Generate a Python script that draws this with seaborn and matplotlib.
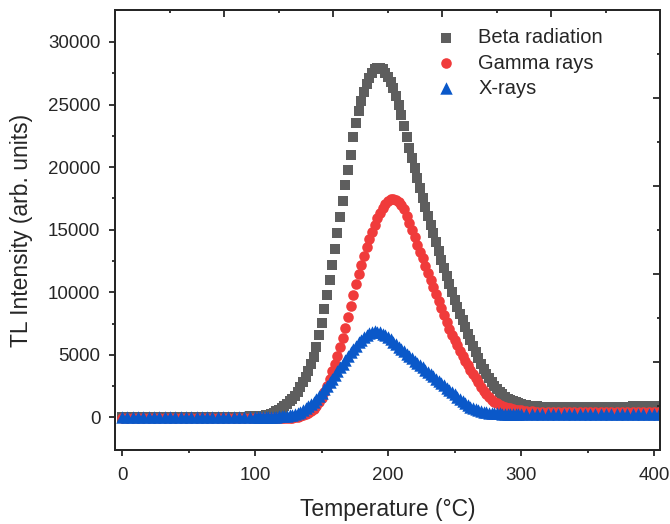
import numpy as np
import pandas as pd
import matplotlib
matplotlib.use("Agg")
import matplotlib.pyplot as plt
from matplotlib.ticker import MultipleLocator, FixedLocator
import seaborn as sns

# ---------------- data ----------------
temperature = list(range(0, 100, 4)) + list(range(100, 301, 2)) + list(range(304, 405, 4))

beta_low = [70] * 22 + [75, 75, 80]
beta_mid = [
    80, 90, 110, 140, 180, 230, 300, 380, 480, 600,            # 100-118
    740, 900, 1080, 1280, 1500, 1740, 2000, 2400, 2800, 3250,  # 120-138
    3750, 4300, 4850, 5650, 6550, 7550, 8650, 9800, 11000, 12200,  # 140-158
    13450, 14750, 16050, 17300, 18550, 19800, 21000, 22400, 23500, 24450,  # 160-178
    25250, 26000, 26650, 27150, 27550, 27850, 27950, 27950, 27800, 27550,  # 180-198
    27200, 26800, 26300, 25700, 25000, 24200, 23300, 22400, 21500, 20700,  # 200-218
    19900, 19100, 18300, 17500, 16800, 16100, 15400, 14700, 14000, 13300,  # 220-238
    12600, 11950, 11300, 10650, 10000, 9400, 8850, 8300, 7750, 7200,       # 240-258
    6700, 6200, 5700, 5200, 4750, 4300, 3900, 3500, 3150, 2850,            # 260-278
    2550, 2300, 2050, 1850, 1650, 1500, 1380, 1280, 1200, 1130,            # 280-298
    1070,                                                                  # 300
]
beta_high = [1000, 940, 900, 870, 850, 830, 820, 810, 800, 800, 800, 800, 800,
             810, 820, 830, 840, 850, 860, 870, 880, 890, 900, 910, 920, 930]

gamma_low = [-40] * 25
gamma_mid = [
    -40, -40, -40, -40, -40, -40, -40, -40, -40, -40,          # 100-118
    -40, -35, -30, -20, -5, 20, 60, 110, 180, 270,             # 120-138
    380, 510, 680, 900, 1200, 1580, 2020, 2550, 3100, 3680,    # 140-158
    4280, 4920, 5600, 6350, 7150, 8000, 8900, 9800, 10650, 11450,  # 160-178
    12200, 12900, 13600, 14250, 14850, 15400, 15900, 16350, 16750, 17050,  # 180-198
    17280, 17420, 17450, 17400, 17250, 17000, 16650, 16100, 15500, 14950,  # 200-218
    14400, 13800, 13250, 12700, 12130, 11570, 11000, 10430, 9860, 9290,    # 220-238
    8720, 8160, 7620, 7100, 6600, 6200, 5750, 5330, 4920, 4530,            # 240-258
    4160, 3810, 3480, 3140, 2800, 2470, 2150, 1870, 1630, 1430,            # 260-278
    1270, 1140, 1030, 940, 860, 790, 730, 680, 630, 590,                   # 280-298
    560,                                                                   # 300
]
gamma_high = [510, 480, 460, 450, 440, 430] + [420] * 20

xray_low = [60] * 25
xray_mid = [
    60, 60, 60, 60, 60, 60, 60, 65, 70, 80,                    # 100-118
    95, 115, 140, 175, 220, 280, 360, 460, 580, 720,           # 120-138
    880, 1060, 1260, 1480, 1720, 1980, 2250, 2530, 2820, 3110, # 140-158
    3400, 3700, 4000, 4300, 4600, 4900, 5190, 5470, 5740, 5990,  # 160-178
    6220, 6430, 6610, 6750, 6840, 6870, 6850, 6790, 6700, 6560,  # 180-198
    6400, 6230, 6050, 5860, 5660, 5460, 5270, 5080, 4900, 4720,  # 200-218
    4540, 4360, 4180, 4000, 3820, 3640, 3460, 3280, 3100, 2920,  # 220-238
    2740, 2560, 2380, 2200, 2020, 1840, 1660, 1490, 1320, 1160,  # 240-258
    1010, 870, 750, 650, 570, 500, 450, 410, 380, 360,           # 260-278
    340, 330, 320, 315, 310, 305, 300, 300, 300, 300,            # 280-298
    300,                                                          # 300
]
xray_high = [300] * 26

beta = beta_low + beta_mid + beta_high
gamma = gamma_low + gamma_mid + gamma_high
xray = xray_low + xray_mid + xray_high

labels = ["Beta radiation", "Gamma rays", "X-rays"]

# ---------------- style ----------------
sns.set_style("ticks")
plt.rcParams["font.family"] = ["Liberation Sans", "DejaVu Sans"]
plt.rcParams["axes.linewidth"] = 1.3

fig = plt.figure(figsize=(6.7, 5.24), dpi=100)
ax = fig.add_axes([115 / 670, 1 - 450 / 524, 545 / 670, 440 / 524])

colors = ["#5e5e5e", "#f03b3b", "#0a58c9"]
markers = ["s", "o", "^"]
sizes = [48, 58, 80]
for vals, lab, c, m, s in zip([beta, gamma, xray], labels, colors, markers, sizes):
    sns.scatterplot(x=temperature, y=vals, ax=ax, color=c, marker=m, s=s,
                    linewidth=0, label=lab, zorder=3)

ax.set_xlim(-5.3, 404.5)
ax.set_ylim(-2600, 32550)
ax.xaxis.set_major_locator(MultipleLocator(100))
ax.xaxis.set_minor_locator(MultipleLocator(50))
ax.yaxis.set_major_locator(MultipleLocator(5000))
ax.yaxis.set_minor_locator(FixedLocator(np.arange(2500, 32500, 5000)))
ax.tick_params(axis="both", which="major", direction="out", length=4.5, width=1.3,
               labelsize=13.5, pad=6, top=False, right=False)
ax.tick_params(axis="x", which="major", pad=8)
ax.tick_params(axis="both", which="minor", direction="out", length=2.5, width=1.3,
               top=False, right=False)

ax.set_xlabel("Temperature (°C)", fontsize=16.5, labelpad=10)
ax.set_ylabel("TL Intensity (arb. units)", fontsize=16.5, labelpad=11)

# top and right decorative tick axes
axt = ax.twiny()
axt.set_xlim(0, 1)
axt.xaxis.set_major_locator(MultipleLocator(0.2))
axt.xaxis.set_minor_locator(MultipleLocator(0.1))
axt.tick_params(axis="x", which="major", direction="in", length=5, width=1.3,
                labeltop=False, top=True)
axt.tick_params(axis="x", which="minor", direction="in", length=2.5, width=1.3, top=True)

axr = ax.twinx()
axr.set_ylim(0, 1)
axr.yaxis.set_major_locator(MultipleLocator(0.2))
axr.yaxis.set_minor_locator(MultipleLocator(0.1))
axr.tick_params(axis="y", which="major", direction="in", length=5, width=1.3,
                labelright=False, right=True)
axr.tick_params(axis="y", which="minor", direction="in", length=2.5, width=1.3, right=True)

for a in (ax, axt, axr):
    for sp in a.spines.values():
        sp.set_visible(True)
        sp.set_linewidth(1.3)

handles, labs = ax.get_legend_handles_labels()
ax.legend(handles, labs, loc="upper left", bbox_to_anchor=(0.589, 0.958),
          frameon=False, fontsize=14.5, handlelength=1.0, handletextpad=1.1,
          labelspacing=0.3, borderpad=0, borderaxespad=0)

fig.savefig("out.png", dpi=100)
